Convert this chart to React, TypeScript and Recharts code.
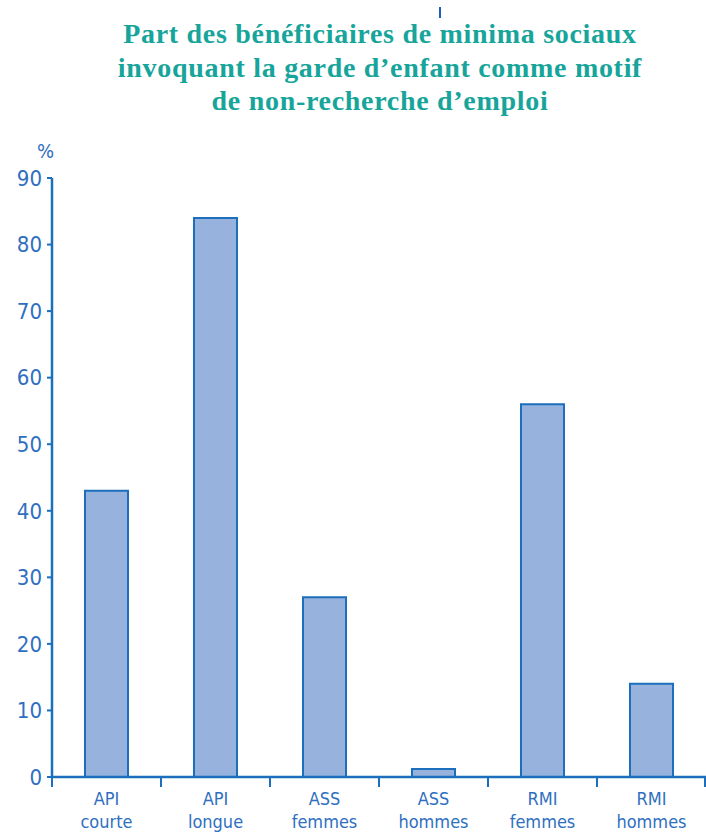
import React from "react";
import { BarChart, Bar, XAxis, YAxis } from "recharts";

const categories = ["API|courte", "API|longue", "ASS|femmes", "ASS|hommes", "RMI|femmes", "RMI|hommes"];
const values = [43, 84, 27, 1.2, 56, 14];
const yTicks = [0, 10, 20, 30, 40, 50, 60, 70, 80, 90];
const titleLines = [
  "Part des bénéficiaires de minima sociaux",
  "invoquant la garde d\u2019enfant comme motif",
  "de non-recherche d\u2019emploi",
];

const data = categories.map((c, i) => ({ name: c, value: values[i] }));

const W = 706;
const H = 833;
const MARGIN = { top: 178, right: 0, bottom: 6, left: 8 };
const Y_W = 44;
const AXIS = "#1b6fbd";
const LABEL = "#2f6fc0";
const NARROW = "'Liberation Sans Narrow', 'DejaVu Sans Condensed', 'Liberation Sans', sans-serif";

const band = (W - MARGIN.left - Y_W - MARGIN.right) / categories.length;

const XTick = (props: any) => {
  const { x, y, payload, index } = props;
  const [l1, l2] = String(payload.value).split("|");
  const left = x - band / 2;
  const right = x + band / 2;
  return (
    <g>
      <line x1={left} y1={y - 8} x2={left} y2={y + 2} stroke={AXIS} strokeWidth={2} />
      {index === categories.length - 1 && (
        <line x1={right - 1} y1={y - 8} x2={right - 1} y2={y + 2} stroke={AXIS} strokeWidth={2} />
      )}
      <text x={x} y={y + 20} textAnchor="middle" fill={LABEL} fontSize={18} fontFamily={NARROW}>
        {l1}
      </text>
      <text x={x} y={y + 43} textAnchor="middle" fill={LABEL} fontSize={18} fontFamily={NARROW}>
        {l2}
      </text>
    </g>
  );
};

export default function App() {
  return (
    <div style={{ position: "absolute", left: 0, top: 0, width: W, height: H, background: "#fff" }}>
      <div
        style={{
          position: "absolute",
          left: 0,
          top: 17,
          width: 760,
          textAlign: "center",
          fontFamily: "'Liberation Serif', 'DejaVu Serif', serif",
          fontWeight: "bold",
          fontSize: 28,
          letterSpacing: 0.7,
          lineHeight: "33.5px",
          color: "#17a59b",
        }}
      >
        {titleLines.map((t, i) => (
          <div key={i}>{t}</div>
        ))}
      </div>
      <div style={{ position: "absolute", left: 439, top: 7, width: 2, height: 11, background: "#1b5fbd" }} />
      <div
        style={{
          position: "absolute",
          left: 37,
          top: 139,
          fontFamily: NARROW,
          fontSize: 20,
          color: LABEL,
        }}
      >
        %
      </div>
      <div style={{ position: "absolute", left: 0, top: 0 }}>
        <BarChart width={W} height={H} data={data} margin={MARGIN} barCategoryGap={0}>
          <XAxis
            dataKey="name"
            height={50}
            axisLine={{ stroke: AXIS, strokeWidth: 2.5 }}
            tickLine={false}
            tick={<XTick />}
            interval={0}
          />
          <YAxis
            width={Y_W}
            domain={[0, 90]}
            ticks={yTicks}
            interval={0}
            axisLine={{ stroke: AXIS, strokeWidth: 2.5 }}
            tickLine={{ stroke: AXIS, strokeWidth: 2 }}
            tickSize={5}
            tickMargin={5}
            tick={{ fill: LABEL, fontSize: 22, fontFamily: NARROW }}
          />
          <Bar dataKey="value" fill="#97b2dd" stroke={AXIS} strokeWidth={2} barSize={43} isAnimationActive={false} />
        </BarChart>
      </div>
    </div>
  );
}
